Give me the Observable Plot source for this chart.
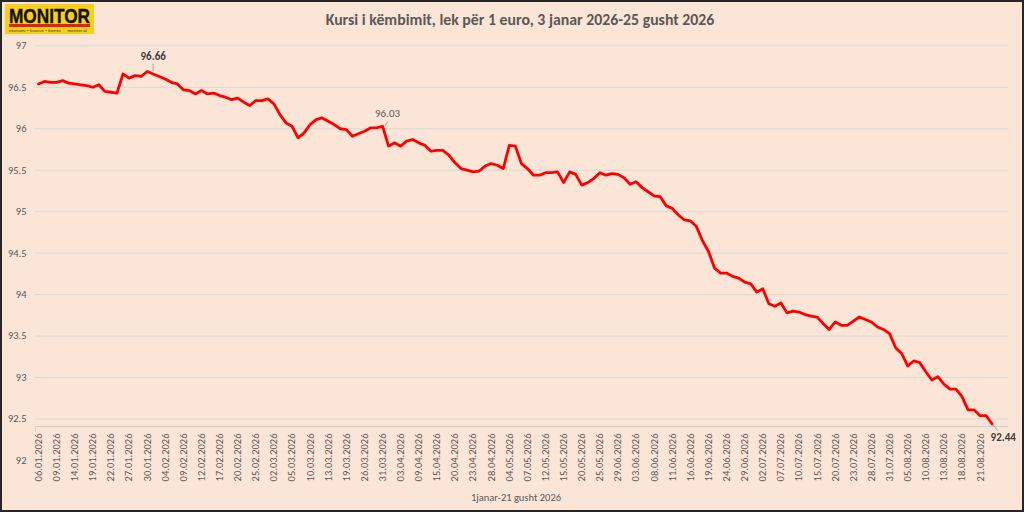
<!DOCTYPE html>
<html><head><meta charset="utf-8">
<script src="https://cdn.jsdelivr.net/npm/d3@7"></script>
<script src="https://cdn.jsdelivr.net/npm/@observablehq/plot@0.6"></script>
<style>
html,body{margin:0;padding:0;background:#FBE5D6;}
#wrap{position:relative;width:1024px;height:512px;overflow:hidden;background:#FBE5D6;font-family:Carlito,Lato,"Open Sans",sans-serif;}
#chart{position:absolute;left:0;top:0;}
#title{position:absolute;left:0;top:10px;width:1040px;text-align:center;font-weight:700;font-size:15.8px;line-height:19px;color:#595959;white-space:nowrap;}
#caption{position:absolute;left:0;top:491px;width:1032px;text-align:center;font-size:10.5px;line-height:13px;color:#595959;}
#logo{position:absolute;left:5px;top:4px;width:89px;height:30px;background:#F8CF1C;overflow:hidden;}
#logo .m{position:absolute;left:4px;top:1px;font-family:"Liberation Sans","DejaVu Sans",sans-serif;font-weight:700;font-size:21px;line-height:22px;color:#111;transform:scaleX(0.82);transform-origin:0 0;white-space:nowrap;-webkit-text-stroke:0.4px #111;}
#logo .bar{position:absolute;left:4px;top:20px;width:81px;height:2.5px;background:#E0201B;}
#logo .sub{position:absolute;left:4px;top:23.5px;font-family:"Liberation Sans",sans-serif;font-size:4px;line-height:5px;color:#333;white-space:nowrap;letter-spacing:0.2px;}
#frame{position:absolute;left:0;top:0;width:1024px;height:512px;box-sizing:border-box;border:2px solid #262626;pointer-events:none;}
</style>
</head><body>
<div id="wrap">
  <div id="chart"></div>
  <div id="logo"><div class="m">MONITOR</div><div class="bar"></div><div class="sub">ekonomi • financë • biznes &nbsp;&nbsp;&nbsp; monitor.al</div></div>
  <div id="title">Kursi i këmbimit, lek për 1 euro, 3 janar 2026-25 gusht 2026</div>
  <div id="caption">1janar-21 gusht 2026</div>
  <div id="frame"></div>
</div>
<script>
// Tick labels (every third trading day)
const tickLabels = ["06.01.2026","09.01.2026","14.01.2026","19.01.2026","22.01.2026","27.01.2026","30.01.2026",
  "04.02.2026","09.02.2026","12.02.2026","17.02.2026","20.02.2026","25.02.2026",
  "02.03.2026","05.03.2026","10.03.2026","13.03.2026","19.03.2026","26.03.2026","31.03.2026",
  "03.04.2026","09.04.2026","15.04.2026","20.04.2026","23.04.2026","28.04.2026",
  "04.05.2026","07.05.2026","12.05.2026","15.05.2026","20.05.2026","25.05.2026","29.06.2026",
  "03.06.2026","08.06.2026","11.06.2026","16.06.2026","19.06.2026","24.06.2026","29.06.2026",
  "02.07.2026","07.07.2026","10.07.2026","15.07.2026","20.07.2026","23.07.2026","28.07.2026","31.07.2026",
  "05.08.2026","10.08.2026","13.08.2026","18.08.2026","21.08.2026"];

// Lek per 1 euro, daily
const rates = [96.54,96.57,96.56,96.56,96.58,96.55,96.54,96.53,96.52,96.50,
 96.53,96.45,96.44,96.43,96.66,96.61,96.64,96.63,96.69,96.66,
 96.63,96.60,96.56,96.54,96.47,96.46,96.42,96.46,96.42,96.43,
 96.40,96.38,96.35,96.37,96.32,96.28,96.34,96.34,96.36,96.30,
 96.17,96.07,96.03,95.89,95.95,96.05,96.11,96.13,96.09,96.05,
 96.00,95.99,95.91,95.94,95.97,96.01,96.01,96.03,95.79,95.83,
 95.79,95.85,95.87,95.83,95.80,95.73,95.74,95.74,95.68,95.59,
 95.52,95.50,95.48,95.49,95.55,95.58,95.56,95.52,95.80,95.79,
 95.58,95.52,95.44,95.44,95.47,95.47,95.48,95.35,95.48,95.45,
 95.32,95.35,95.40,95.47,95.44,95.46,95.45,95.41,95.33,95.36,
 95.29,95.24,95.19,95.18,95.07,95.04,94.96,94.90,94.89,94.82,
 94.65,94.52,94.32,94.26,94.26,94.22,94.20,94.15,94.13,94.03,
 94.07,93.89,93.86,93.90,93.78,93.80,93.79,93.76,93.74,93.73,
 93.65,93.58,93.67,93.63,93.63,93.68,93.73,93.70,93.67,93.61,
 93.58,93.53,93.36,93.29,93.14,93.20,93.18,93.07,92.97,93.01,
 92.92,92.86,92.86,92.77,92.61,92.61,92.54,92.54,92.44];

// Y axis tick values
const yTicks = [92, 92.5, 93, 93.5, 94, 94.5, 95, 95.5, 96, 96.5, 97];
const yGrid = [92.5, 93, 93.5, 94, 94.5, 95, 95.5, 96, 96.5, 97];
const axisCross = 92.41;

// Annotations
const annIndex = [18, 57, 158];
const annText = ["96.66", "96.03", "92.44"];

const data = rates.map((v, i) => ({i, v}));
const ann = annIndex.map((i, k) => ({i, v: rates[i], t: annText[k]}));
const xTicks = tickLabels.map((_, k) => k * 3);

const font = "Carlito, Lato, 'Open Sans', sans-serif";

const chart = Plot.plot({
  width: 1024,
  height: 512,
  marginLeft: 35,
  marginRight: 16,
  marginTop: 45.3,
  marginBottom: 52,
  style: {background: "transparent", fontFamily: font, fontSize: "10.5px", color: "#595959"},
  x: {type: "linear", domain: [-0.5, 160.7], label: null},
  y: {type: "linear", domain: [92, 97], label: null},
  marks: [
    Plot.gridY(yGrid, {stroke: "#D9D9D9", strokeOpacity: 1, strokeWidth: 1}),
    Plot.ruleY([axisCross], {stroke: "#CFCFCF", strokeWidth: 1}),
    Plot.ruleX([-0.5], {y1: axisCross, y2: axisCross - 0.07, stroke: "#CFCFCF"}),
    Plot.axisY(yTicks, {tickSize: 0, tickPadding: 9, fill: "#595959", fontSize: 10.5, label: null,
      tickFormat: (d) => String(d)}),
    Plot.axisX(xTicks, {anchor: "bottom", tickSize: 0, tickPadding: 0, tickRotate: -90, dy: -27,
      tickFormat: (i) => tickLabels[i / 3], fill: "#595959", fontSize: 10.5, label: null}),
    Plot.line(data, {x: "i", y: "v", stroke: "#FF0000", strokeWidth: 2.8, strokeLinejoin: "round", strokeLinecap: "round"}),
    Plot.link([ann[0]], {x1: d => d.i + 1, x2: d => d.i + 1, y1: d => d.v + 0.005, y2: d => d.v + 0.095, stroke: "#A6A6A6", strokeWidth: 1}),
    Plot.link([ann[1]], {x1: d => d.i + 0.35, x2: d => d.i + 0.85, y1: d => d.v, y2: d => d.v + 0.055, stroke: "#A6A6A6", strokeWidth: 1}),
    Plot.link([ann[2]], {x1: d => d.i + 0.1, x2: d => d.i + 0.9, y1: d => d.v - 0.005, y2: d => d.v - 0.08, stroke: "#A6A6A6", strokeWidth: 1}),
    Plot.text([ann[0]], {x: "i", y: "v", text: "t", dx: 6, dy: -15, fontWeight: "bold", fill: "#404040", fontSize: 11}),
    Plot.text([ann[1]], {x: "i", y: "v", text: "t", dx: 5, dy: -12.5, fill: "#595959", fontSize: 11}),
    Plot.text([ann[2]], {x: "i", y: "v", text: "t", dx: 11, dy: 13, fontWeight: "bold", fill: "#404040", fontSize: 11})
  ]
});
document.getElementById("chart").appendChild(chart);
</script>
</body></html>
